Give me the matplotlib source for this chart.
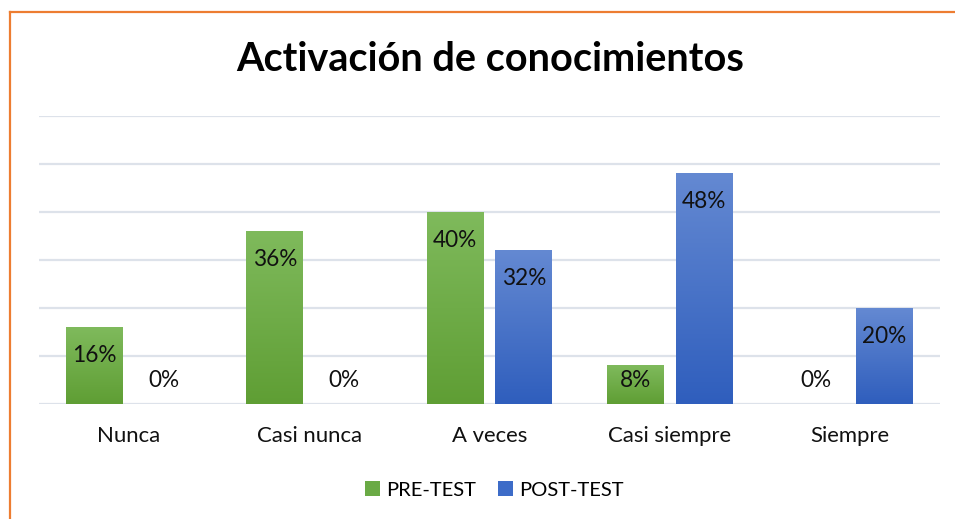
import numpy as np
import matplotlib
matplotlib.use("Agg")
from matplotlib import pyplot as plt
from matplotlib.colors import LinearSegmentedColormap
from matplotlib.patches import Patch

# datos
categorias = ["Nunca", "Casi nunca", "A veces", "Casi siempre", "Siempre"]
pre_test = [16, 36, 40, 8, 0]
post_test = [0, 0, 32, 48, 20]
series = ["PRE-TEST", "POST-TEST"]
titulo = "Activación de conocimientos"

plt.rcParams['font.family'] = ['Lato', 'DejaVu Sans']

W, H = 955, 519
fig = plt.figure(figsize=(W / 100, H / 100), dpi=100)
ax = fig.add_axes([39 / W, (H - 404) / H, (940 - 39) / W, (404 - 116) / H])

# gradientes tipo excel (claro arriba, oscuro abajo)
verde = LinearSegmentedColormap.from_list("verde", ["#5f9e34", "#7fba5c"])
azul = LinearSegmentedColormap.from_list("azul", ["#2f5ebd", "#6489d2"])

x = np.arange(len(categorias))
ancho = 0.316
desp = 0.191
grad = np.linspace(0, 1, 256).reshape(-1, 1)

def barras(vals, offset, cmap):
    bars = ax.bar(x + offset, vals, ancho, color="none", zorder=3)
    for b, v in zip(bars, vals):
        if v > 0:
            x0 = b.get_x()
            ax.imshow(grad, cmap=cmap, origin="lower", aspect="auto",
                      extent=[x0, x0 + ancho, 0, v], zorder=3)
        # etiqueta (dentro del extremo, o encima de la base si no cabe)
        ypos = max(v - 5.9, 4.9)
        ax.text(b.get_x() + ancho / 2, ypos, f"{v}%", ha="center", va="center",
                fontsize=16.3, color="#111111", zorder=4)

barras(pre_test, -desp, verde)
barras(post_test, desp, azul)

ax.set_xlim(-0.5, len(categorias) - 0.5)
ax.set_ylim(0, 60)
ax.set_yticks(np.arange(0, 61, 10))
ax.yaxis.grid(True, color="#dde2ea", linewidth=1.6, zorder=0)
ax.set_axisbelow(True)
ax.tick_params(axis="y", left=False, labelleft=False)
ax.tick_params(axis="x", length=0, pad=16, labelsize=15.9, labelcolor="#111111")
ax.set_xticks(x)
ax.set_xticklabels(categorias)
for s in ax.spines.values():
    s.set_visible(False)

fig.text(490 / W, 1 - 60 / H, titulo, ha="center", va="center",
         fontsize=28.5, fontweight="bold", color="#000000")

handles = [Patch(facecolor="#6aaa45", edgecolor="none"),
           Patch(facecolor="#3d6cc8", edgecolor="none")]
fig.legend(handles, series, loc="center", bbox_to_anchor=(494 / W, 1 - 490 / H),
           ncol=2, frameon=False, fontsize=14.5, handlelength=0.75, handleheight=0.75,
           handletextpad=0.3, columnspacing=1.1)

# borde naranja
fig.add_artist(plt.Line2D([9.5 / W, 1], [1 - 12 / H, 1 - 12 / H], color="#ed7d31", linewidth=1.6))
fig.add_artist(plt.Line2D([9.5 / W, 9.5 / W], [0, 1 - 12 / H], color="#ed7d31", linewidth=1.6))

fig.savefig("out.png", dpi=100, facecolor="white")
